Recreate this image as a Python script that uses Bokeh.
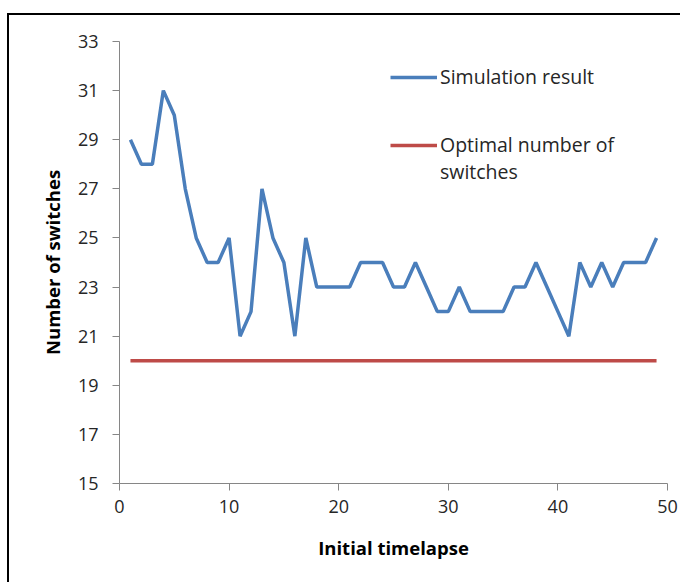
from bokeh.plotting import figure
from bokeh.models import Range1d, Legend, LegendItem, FixedTicker
from bokeh.embed import file_html
from bokeh.resources import INLINE

timelapse = list(range(1, 50))
simulation = [29, 28, 28, 31, 30, 27, 25, 24, 24, 25,
              21, 22, 27, 25, 24, 21, 25, 23, 23, 23,
              23, 24, 24, 24, 23, 23, 24, 23, 22, 22,
              23, 22, 22, 22, 22, 23, 23, 24, 23, 22,
              21, 24, 23, 24, 23, 24, 24, 24, 25]
optimal = [20] * len(timelapse)
x_ticks = [0, 10, 20, 30, 40, 50]
y_ticks = [15, 17, 19, 21, 23, 25, 27, 29, 31, 33]

FONT = "Open Sans"

# canvas placed at (9, 15) after CSS margin + border
W, H = 673, 569
p = figure(width=W, height=H, output_backend="svg", toolbar_location=None,
           x_range=Range1d(0, 50), y_range=Range1d(15, 33),
           min_border_left=110, min_border_right=W - 658, min_border_top=26, min_border_bottom=H - 468)
p.styles = {"margin-left": "7px", "margin-top": "13px",
            "border-left": "2px solid black", "border-top": "2px solid black"}
p.outline_line_color = None
p.grid.visible = False
p.background_fill_color = "white"
p.border_fill_color = "white"

r1 = p.line(timelapse, simulation, line_color="#4a7ebb", line_width=3.5)
r2 = p.line(timelapse, optimal, line_color="#be4b48", line_width=3.5)

for ax in (p.xaxis[0], p.yaxis[0]):
    ax.axis_line_color = "#868686"
    ax.axis_line_width = 1
    ax.major_tick_line_color = "#868686"
    ax.major_tick_in = 0
    ax.major_tick_out = 7
    ax.minor_tick_line_color = None
    ax.major_label_text_font = FONT
    ax.major_label_text_font_size = "18px"
    ax.major_label_text_color = "#262626"
    ax.axis_label_text_font = FONT
    ax.axis_label_text_font_size = "18.5px"
    ax.axis_label_text_font_style = "bold"
    ax.axis_label_text_color = "black"

p.xaxis.ticker = FixedTicker(ticks=x_ticks)
p.yaxis.ticker = FixedTicker(ticks=y_ticks)
p.xaxis.axis_label = "Initial timelapse"
p.yaxis.axis_label = "Number of switches"
p.xaxis.major_label_standoff = 9
p.yaxis.major_label_standoff = 14
p.xaxis.axis_label_standoff = 19
p.yaxis.axis_label_standoff = 10

common = dict(border_line_color=None, background_fill_alpha=0,
              glyph_width=47, glyph_height=20, label_height=26, label_standoff=3,
              spacing=0, padding=0, margin=0,
              label_text_font=FONT, label_text_font_size="19.5px", label_text_color="#262626")

legend1 = Legend(items=[LegendItem(label="Simulation result", renderers=[r1])],
                 location=(271, 393), **common)
legend2 = Legend(items=[LegendItem(label="Optimal number of", renderers=[r2]),
                        LegendItem(label="switches", renderers=[])],
                 location=(271, 298), **common)
p.add_layout(legend1)
p.add_layout(legend2)

open("out.html", "w").write(file_html(p, INLINE))
